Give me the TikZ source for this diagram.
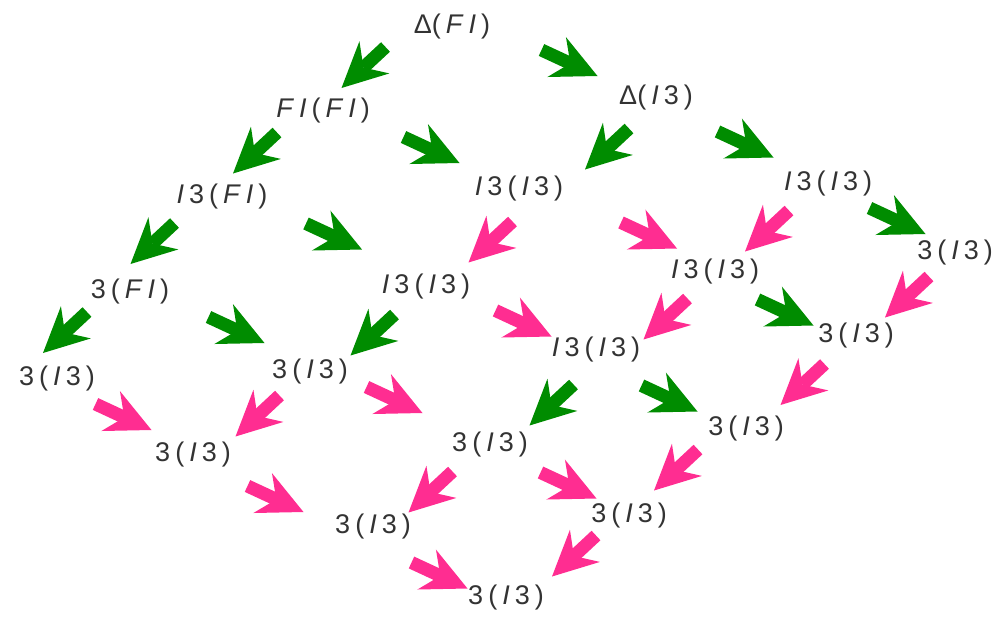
\documentclass[tikz,border=0pt]{standalone}
\usepackage{fontspec}
\setmainfont{Liberation Sans}
\usetikzlibrary{arrows.meta,calc}
\definecolor{grn}{RGB}{0,140,0}
\definecolor{pnk}{RGB}{255,45,145}
\newcommand\gk{\kern5pt}
\newcommand\lI{\textit{I}}
\newcommand\lF{\textit{F}}
\newcommand\IIII{\lI\gk3\gk(\gk\lI\gk3\gk)}
\newcommand\TIII{3\gk(\gk\lI\gk3\gk)}
\newcommand\arrDR[4]{\draw[#1] ($(#2)!.5!(#3)+(#4)+(-28,-13)$) -- ++(56,26);}
\newcommand\arrDL[4]{\draw[#1] ($(#2)!.5!(#3)+(#4)+(22,-20.5)$) -- ++(-44,41);}
\begin{document}
\begin{tikzpicture}[x=1pt,y=-1pt,
  lbl/.style={font=\fontsize{27}{27}\selectfont, text=black!80, inner sep=0pt},
  fat/.style={line width=13pt, line cap=butt, -{Stealth[length=45pt,width=44pt,inset=15pt,line width=0pt]}},
  G/.style={fat, color=grn},
  P/.style={fat, color=pnk}]
\useasboundingbox (0,0) rectangle (1001,619);
% nodes
\node[lbl] (n00) at (452,27) {Δ(\gk\lF\gk\lI\gk)};
\node[lbl] (n10) at (323,111) {\lF\gk\lI\gk(\gk\lF\gk\lI\gk)};
\node[lbl] (n20) at (222,197) {\lI\gk3\gk(\gk\lF\gk\lI\gk)};
\node[lbl] (n30) at (130,292) {3\gk(\gk\lF\gk\lI\gk)};
\node[lbl] (n40) at (57,379) {\TIII};
\node[lbl] (n01) at (656,98) {Δ(\gk\lI\gk3\gk)};
\node[lbl] (n11) at (519,189) {\IIII};
\node[lbl] (n21) at (426,287) {\IIII};
\node[lbl] (n31) at (310,372) {\TIII};
\node[lbl] (n41) at (193,455) {\TIII};
\node[lbl] (n02) at (828,184) {\IIII};
\node[lbl] (n12) at (715,272) {\IIII};
\node[lbl] (n22) at (596,350) {\IIII};
\node[lbl] (n32) at (490,445) {\TIII};
\node[lbl] (n42) at (373,527) {\TIII};
\node[lbl] (n03) at (955,253) {\TIII};
\node[lbl] (n13) at (856,336) {\TIII};
\node[lbl] (n23) at (746,429) {\TIII};
\node[lbl] (n33) at (629,516) {\TIII};
\node[lbl] (n43) at (506,598) {\TIII};
% green arrows
\arrDL{G}{n00}{n10}{-24,-1.5}
\arrDR{G}{n00}{n01}{15.5,0.5}
\arrDL{G}{n10}{n20}{-17.5,-1}
\arrDR{G}{n10}{n11}{10.5,0}
\arrDL{G}{n01}{n11}{19.5,5.5}
\arrDR{G}{n01}{n02}{3.5,3.5}
\arrDL{G}{n20}{n30}{-23.5,-1}
\arrDR{G}{n20}{n21}{10,-5.5}
\arrDL{G}{n30}{n40}{-28.5,-3}
\arrDR{G}{n30}{n31}{16.5,-2}
\arrDL{G}{n21}{n31}{4.5,5.5}
\arrDR{G}{n02}{n03}{6,2.5}
\arrDR{G}{n12}{n13}{0,8.5}
\arrDL{G}{n22}{n32}{8.5,7.5}
\arrDR{G}{n22}{n23}{-1.5,9}
% pink arrows
\arrDL{P}{n11}{n21}{18,4}
\arrDR{P}{n11}{n12}{32,5}
\arrDL{P}{n02}{n12}{-4.5,3}
\arrDR{P}{n21}{n22}{12.5,5}
\arrDL{P}{n12}{n22}{10,8}
\arrDL{P}{n03}{n13}{1.5,2.5}
\arrDR{P}{n40}{n41}{-1.5,0}
\arrDL{P}{n31}{n41}{6,2.5}
\arrDR{P}{n31}{n32}{-5.5,-8.5}
\arrDL{P}{n13}{n23}{1.5,2}
\arrDR{P}{n41}{n42}{-7.5,8}
\arrDL{P}{n32}{n42}{-1,6}
\arrDR{P}{n32}{n33}{9,5}
\arrDL{P}{n23}{n33}{-11.5,-2.5}
\arrDR{P}{n42}{n43}{0,13}
\arrDL{P}{n33}{n43}{6.5,-1}
\end{tikzpicture}
\end{document}
